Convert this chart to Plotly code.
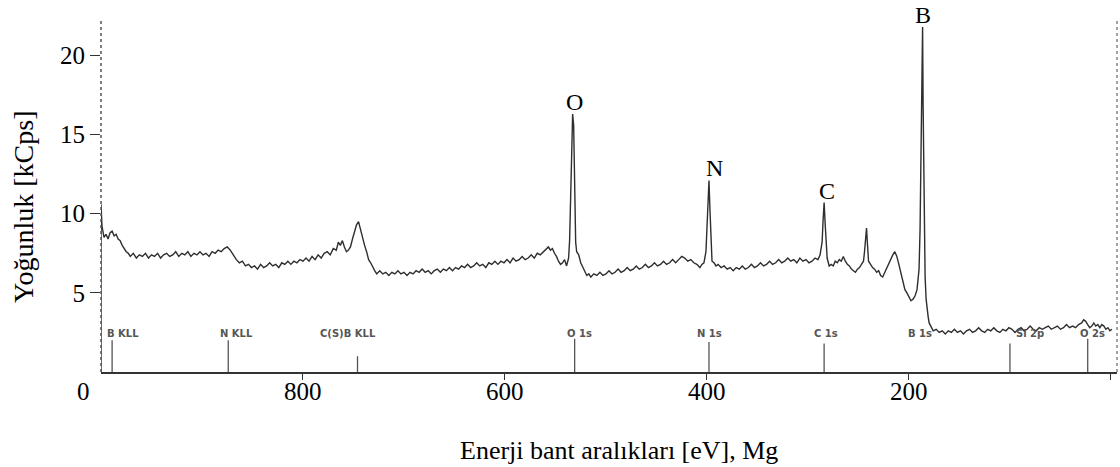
import plotly.graph_objects as go

# ---------------- data ----------------
spec_E = [1000, 1000, 999, 997, 995, 993, 991, 989, 987, 985, 983, 981, 979, 977, 975, 973, 971,
          968, 965, 962, 959, 956, 953, 950, 947, 944, 941, 938, 935, 932, 929, 926, 923, 920, 917,
          914, 911, 908, 905, 902, 899, 896, 893, 890, 887, 884, 881, 878, 875, 872, 869, 866, 863,
          860, 857, 854, 851, 848, 845, 842, 839, 836, 833, 830, 827, 824, 821, 818, 815, 812, 809,
          806, 803, 800, 797, 794, 791, 788, 785, 782, 779, 776, 773, 770, 767, 765, 763, 761, 759,
          757, 755, 753, 751, 749, 747, 745, 743, 741, 739, 737, 735, 733, 731, 729, 727, 724, 721,
          718, 715, 712, 709, 706, 703, 700, 697, 694, 691, 688, 685, 682, 679, 676, 673, 670, 667,
          664, 661, 658, 655, 652, 649, 646, 643, 640, 637, 634, 631, 628, 625, 622, 619, 616, 613,
          610, 607, 604, 601, 598, 595, 592, 589, 586, 583, 580, 577, 574, 571, 568, 565, 562, 559,
          557, 555, 553, 551, 549, 547, 545, 543, 541, 539, 537, 536, 535, 534, 533, 532, 531, 530,
          529, 527, 525, 523, 521, 519, 517, 515, 512, 509, 506, 503, 500, 497, 494, 491, 488, 485,
          482, 479, 476, 473, 470, 467, 464, 461, 458, 455, 452, 449, 446, 443, 440, 437, 434, 431,
          428, 425, 422, 419, 416, 413, 410, 407, 405, 403, 401, 400, 399, 398, 397, 396, 395, 393,
          391, 389, 386, 383, 380, 377, 374, 371, 368, 365, 362, 359, 356, 353, 350, 347, 344, 341,
          338, 335, 332, 329, 326, 323, 320, 317, 314, 311, 308, 305, 302, 299, 296, 293, 290, 288,
          286, 285, 284, 283, 282, 281, 279, 277, 275, 273, 271, 269, 267, 265, 263, 261, 259, 257,
          255, 253, 251, 249, 247, 245, 244, 243, 242, 241, 240, 238, 236, 234, 232, 230, 228, 226,
          224, 222, 220, 218, 216, 214, 212, 210, 208, 206, 204, 202, 200, 198, 196, 194, 192, 190,
          189, 188, 187, 186.5, 186, 185, 184, 183, 182, 181, 180, 178, 176, 173, 170, 167, 164, 161,
          158, 155, 152, 149, 146, 143, 140, 137, 134, 131, 128, 125, 122, 119, 116, 113, 110, 107,
          104, 101, 98, 95, 92, 89, 86, 83, 80, 77, 74, 71, 68, 65, 62, 59, 56, 53, 50, 47, 44, 41,
          38, 35, 32, 29, 27, 25, 23, 21, 19, 17, 15, 13, 11, 9, 7, 5, 3, 1, -1]

spec_I = [0.0, 10.6, 9.2, 8.5, 8.7, 8.4, 8.8, 8.9, 8.6, 8.7, 8.4, 8.3, 8.0, 7.8, 7.6, 7.5, 7.3,
          7.5, 7.2, 7.4, 7.3, 7.5, 7.2, 7.4, 7.3, 7.5, 7.2, 7.4, 7.5, 7.3, 7.4, 7.6, 7.3, 7.5, 7.4,
          7.6, 7.3, 7.5, 7.4, 7.6, 7.4, 7.5, 7.3, 7.6, 7.5, 7.7, 7.6, 7.8, 7.9, 7.7, 7.4, 7.1, 6.9,
          7.0, 6.7, 6.8, 6.6, 6.7, 6.5, 6.8, 6.6, 6.7, 6.9, 6.7, 6.8, 6.6, 6.9, 6.8, 7.0, 6.8, 7.0,
          6.9, 7.1, 7.0, 7.2, 7.0, 7.3, 7.1, 7.4, 7.2, 7.5, 7.6, 7.4, 7.8, 7.7, 8.2, 8.0, 8.3, 7.9,
          7.6, 7.7, 7.9, 8.4, 8.8, 9.3, 9.5, 9.0, 8.4, 8.0, 7.6, 7.1, 6.9, 6.6, 6.4, 6.2, 6.4, 6.2,
          6.3, 6.1, 6.3, 6.2, 6.4, 6.2, 6.3, 6.1, 6.3, 6.2, 6.4, 6.3, 6.5, 6.3, 6.4, 6.2, 6.4, 6.5,
          6.3, 6.5, 6.4, 6.6, 6.4, 6.6, 6.5, 6.7, 6.6, 6.8, 6.6, 6.7, 6.9, 6.7, 6.8, 6.6, 6.9, 6.8,
          7.0, 6.8, 7.0, 6.9, 7.1, 6.9, 7.2, 7.0, 7.1, 7.3, 7.1, 7.2, 7.4, 7.2, 7.5, 7.4, 7.6, 7.8,
          7.9, 7.7, 7.8, 7.5, 7.3, 7.0, 6.8, 6.9, 7.1, 6.7, 7.2, 8.3, 11.5, 14.8, 16.3, 15.6, 11.0, 8.2,
          7.6, 7.4, 6.9, 6.6, 6.3, 6.1, 6.2, 6.0, 6.2, 6.1, 6.3, 6.1, 6.2, 6.4, 6.2, 6.3, 6.5, 6.3,
          6.4, 6.6, 6.4, 6.5, 6.7, 6.5, 6.6, 6.8, 6.6, 6.7, 6.9, 6.7, 6.8, 7.0, 6.8, 6.9, 7.1, 6.9,
          7.1, 7.3, 7.2, 7.0, 7.1, 6.9, 6.8, 6.6, 6.8, 6.9, 7.6, 9.5, 11.6, 12.1, 10.2, 8.0, 7.0, 6.9,
          6.7, 6.8, 6.6, 6.7, 6.5, 6.6, 6.4, 6.6, 6.5, 6.7, 6.5, 6.6, 6.8, 6.6, 6.7, 6.9, 6.7, 6.8,
          7.0, 6.8, 6.9, 7.1, 6.9, 7.0, 7.2, 7.0, 7.1, 6.9, 7.2, 7.0, 7.1, 6.9, 7.0, 7.2, 7.1, 7.4,
          8.2, 9.6, 10.7, 9.4, 7.9, 7.2, 6.7, 6.8, 6.7, 7.0, 6.9, 7.1, 7.0, 7.3, 7.0, 6.8, 6.7, 6.5,
          6.4, 6.3, 6.5, 6.6, 6.8, 7.0, 7.6, 8.6, 9.1, 8.0, 7.0, 6.8, 6.6, 6.5, 6.3, 6.4, 6.1, 6.0,
          6.3, 6.6, 6.9, 7.2, 7.4, 7.6, 7.3, 6.8, 6.3, 5.7, 5.2, 5.0, 4.7, 4.5, 4.6, 4.8, 5.2, 6.5,
          9.0, 14.0, 19.5, 21.8, 17.0, 10.5, 6.0, 4.6, 3.9, 3.5, 3.1, 2.8, 2.6, 2.7, 2.5, 2.6, 2.4, 2.6,
          2.5, 2.7, 2.5, 2.6, 2.4, 2.6, 2.7, 2.5, 2.6, 2.8, 2.6, 2.5, 2.7, 2.6, 2.8, 2.6, 2.5, 2.7,
          2.6, 2.8, 2.7, 2.5, 2.7, 2.8, 2.6, 2.7, 2.9, 2.7, 2.6, 2.8, 2.7, 2.8, 2.9, 2.7, 2.8, 2.9, 2.7, 2.8, 3.0, 2.8,
          2.9, 2.8, 3.0, 3.1, 3.3, 3.2, 3.0, 2.8, 2.9, 3.1, 2.9, 3.0, 2.8, 3.0, 2.9, 2.7, 2.8, 2.6, 2.7]

# element reference markers (energy, height)
marker_E = [989, 874, 746, 531, 398, 284, 100, 23]
marker_H = [2.0, 2.0, 1.0, 2.1, 1.9, 1.8, 1.8, 2.1]

# small reference labels
ref_labels = ["B KLL", "N KLL", "C(S)B KLL", "O 1s", "N 1s", "C 1s", "B 1s", "Si 2p", "O 2s"]
ref_label_E = [978, 866, 755, 526, 397, 282, 189, 80, 18]
ref_label_y = 2.45

# peak labels
peak_labels = ["O", "N", "C", "B"]
peak_E = [531, 393, 281, 186]
peak_I = [16.3, 12.1, 10.7, 21.8]

x_tickvals = [800, 600, 400, 200, 0]
x_ticktext = ["800", "600", "400", "200", ""]
y_tickvals = [5, 10, 15, 20]
left_label = "0"   # truncated label left of the axis

x_title = "Enerji bant aralıkları [eV], Mg"
y_title = "Yoğunluk [kCps]"

# ---------------- figure ----------------
SERIF = "Liberation Serif, Times New Roman, serif"
fig = go.Figure()

# reference marker lines
mx, my = [], []
for e, h in zip(marker_E, marker_H):
    mx += [e, e, None]
    my += [0, h, None]
fig.add_trace(go.Scatter(x=mx, y=my, mode="lines",
                         line=dict(color="#555555", width=1.3), hoverinfo="skip",
                         showlegend=False))

# spectrum
fig.add_trace(go.Scatter(x=spec_E, y=spec_I, mode="lines",
                         line=dict(color="#2e2e2e", width=1.4),
                         showlegend=False))

annotations = []
for t, e in zip(ref_labels, ref_label_E):
    annotations.append(dict(x=e, y=ref_label_y, xref="x", yref="y", text="<b>" + t + "</b>",
                            showarrow=False,
                            font=dict(family="DejaVu Sans", size=10, color="#555555")))
for t, e, v in zip(peak_labels, peak_E, peak_I):
    annotations.append(dict(x=e, y=v, xref="x", yref="y", text=t, showarrow=False,
                            yanchor="bottom", yshift=-3,
                            font=dict(family=SERIF, size=24, color="black")))
# x tick labels drawn as text just under the axis
for v, t in zip(x_tickvals, x_ticktext):
    if t:
        annotations.append(dict(x=v, y=0, xref="x", yref="paper", text=t, showarrow=False,
                                xanchor="center", yanchor="middle", yshift=-19,
                                font=dict(family=SERIF, size=25, color="black")))
annotations.append(dict(x=-0.0177, y=0, xref="paper", yref="paper", text=left_label,
                        showarrow=False, xanchor="center", yanchor="middle", yshift=-19,
                        font=dict(family=SERIF, size=25, color="black")))
# axis titles
annotations.append(dict(x=-0.077, y=0.467, xref="paper", yref="paper", text=y_title,
                        textangle=-90, showarrow=False, xanchor="center", yanchor="middle",
                        font=dict(family=SERIF, size=28, color="black")))
annotations.append(dict(x=0.51, y=-0.221, xref="paper", yref="paper", text=x_title,
                        showarrow=False, xanchor="center", yanchor="middle",
                        font=dict(family=SERIF, size=26, color="black")))

fig.update_layout(
    width=1120, height=467,
    margin=dict(l=101, r=3, t=19, b=95),
    paper_bgcolor="white", plot_bgcolor="white",
    annotations=annotations,
    shapes=[
        dict(type="line", xref="paper", yref="paper", x0=0, x1=0, y0=0, y1=1,
             line=dict(color="#555555", width=1.5, dash="dot")),
        dict(type="line", xref="paper", yref="paper", x0=1, x1=1, y0=0, y1=1,
             line=dict(color="#666666", width=1.2, dash="dot")),
    ],
)
fig.update_xaxes(range=[1000, -6], tickvals=x_tickvals, ticktext=x_ticktext,
                 showticklabels=False,
                 ticks="outside", ticklen=6, tickcolor="#333333", tickwidth=1,
                 showline=True, linecolor="#333333", linewidth=1.5,
                 showgrid=False, zeroline=False)
fig.update_yaxes(range=[0, 22.3], tickvals=y_tickvals,
                 ticks="outside", ticklen=10, tickcolor="#333333", tickwidth=1,
                 showline=False, showgrid=False, zeroline=False,
                 tickfont=dict(family=SERIF, size=25, color="black"))

fig.write_html("out.html")
